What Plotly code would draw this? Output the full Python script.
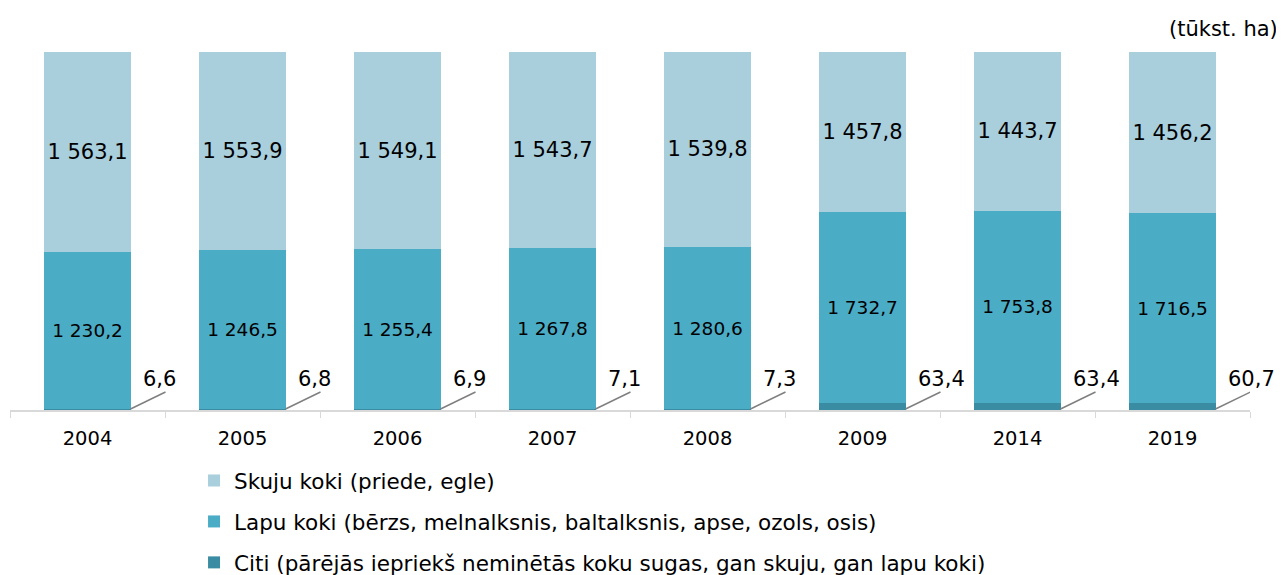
import plotly.graph_objects as go

years = ["2004", "2005", "2006", "2007", "2008", "2009", "2014", "2019"]
skuju = [1563.1, 1553.9, 1549.1, 1543.7, 1539.8, 1457.8, 1443.7, 1456.2]
lapu = [1230.2, 1246.5, 1255.4, 1267.8, 1280.6, 1732.7, 1753.8, 1716.5]
citi = [6.6, 6.8, 6.9, 7.1, 7.3, 63.4, 63.4, 60.7]

names = [
    "Skuju koki (priede, egle)",
    "Lapu koki (bērzs, melnalksnis, baltalksnis, apse, ozols, osis)",
    "Citi (pārējās iepriekš neminētās koku sugas, gan skuju, gan lapu koki)",
]
colors = ["#A9CEDC", "#4BACC6", "#3A8CA2"]
FONT = "DejaVu Sans, Verdana, sans-serif"


def fmt(v):
    # latvian style: space thousands, comma decimal
    s = f"{v:,.1f}"
    return s.replace(",", " ").replace(".", ",")


fig = go.Figure()

# bottom to top: Citi, Lapu, Skuju
fig.add_trace(go.Bar(
    x=years, y=citi, name=names[2], legendgroup="c", legendrank=3,
    marker=dict(color=colors[2], line=dict(width=0)),
    hoverinfo="skip",
))
fig.add_trace(go.Bar(
    x=years, y=lapu, name=names[1], legendgroup="b", legendrank=2,
    marker=dict(color=colors[1], line=dict(width=0)),
    text=[fmt(v) for v in lapu], textposition="inside", textangle=0,
    insidetextanchor="middle", constraintext="none",
    textfont=dict(size=18.5, color="black", family=FONT),
))
fig.add_trace(go.Bar(
    x=years, y=skuju, name=names[0], legendgroup="a", legendrank=1,
    marker=dict(color=colors[0], line=dict(width=0)),
    text=[fmt(v) for v in skuju], textposition="inside", textangle=0,
    insidetextanchor="middle", constraintext="none",
    textfont=dict(size=21, color="black", family=FONT),
))

# Citi labels outside the bar, with a short leader line from the bar corner
for i, v in enumerate(citi):
    fig.add_shape(
        type="line", xref="x", yref="y",
        xsizemode="pixel", xanchor=i, x0=43, x1=78,
        ysizemode="pixel", yanchor=0, y0=1, y1=18,
        line=dict(color="#7F7F7F", width=1.5),
    )
    fig.add_annotation(
        x=i, y=0, xref="x", yref="y", xshift=53, yshift=31,
        xanchor="left", yanchor="middle",
        text=fmt(v), showarrow=False,
        font=dict(size=21, color="black", family=FONT),
    )

fig.add_annotation(
    x=1.0, y=1.0, xref="paper", yref="paper", xanchor="right", yanchor="bottom",
    xshift=30, yshift=9, text="(tūkst. ha)", showarrow=False,
    font=dict(size=21, color="black", family=FONT),
)

fig.update_layout(
    barmode="stack", barnorm="percent", bargap=0.445,
    width=1276, height=567,
    margin=dict(l=2, r=34, t=44, b=165, autoexpand=False),
    paper_bgcolor="white", plot_bgcolor="white",
    font=dict(family=FONT, color="black", size=19),
    legend=dict(
        orientation="v", xref="container", yref="container",
        x=0.1458, y=0.2028, xanchor="left", yanchor="top",
        traceorder="grouped", tracegroupgap=10,
        font=dict(size=21.5, family=FONT, color="black"),
        bgcolor="rgba(0,0,0,0)",
    ),
    showlegend=True,
)
fig.update_xaxes(
    type="category", range=[-0.5, len(years) - 0.5],
    showline=True, linecolor="#D9D9D9", linewidth=2,
    ticks="outside", tickson="boundaries", ticklen=6, tickcolor="#D9D9D9",
    ticklabelstandoff=10,
    tickfont=dict(size=19.5, family=FONT, color="black"),
    showgrid=False,
)
fig.update_yaxes(visible=False, range=[0, 100], showgrid=False)

fig.write_html("out.html")
